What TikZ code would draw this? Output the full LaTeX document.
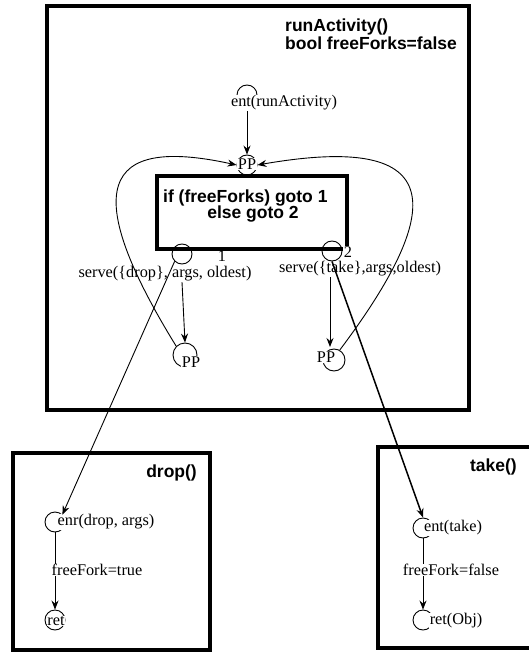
\documentclass[tikz,border=0pt]{standalone}
\usepackage{fontspec}
\setmainfont{Liberation Serif}
\newfontfamily\hv{Liberation Sans}
\usetikzlibrary{arrows.meta}
\begin{document}
\begin{tikzpicture}[x=1pt,y=-1pt,
  frame/.style={draw,line width=3.6pt},
  ttl/.style={font=\hv\bfseries\fontsize{17.5}{16}\selectfont,inner sep=0pt},
  lbl/.style={font=\fontsize{16.3}{18}\selectfont,inner sep=0.5pt},
  wlbl/.style={lbl,fill=white},
  st/.style={draw,circle,line width=0.9pt,inner sep=0pt},
  tip/.style={-{Stealth[length=9pt,width=7pt,inset=3pt]}},
  arr/.style={line width=0.9pt,tip},
  ln/.style={line width=0.9pt}]
\useasboundingbox (0,0) rectangle (528,652);
% frames
\draw[frame] (47,6) rectangle (469,410);
\draw[frame] (13,453) rectangle (210,650);
\draw[frame] (378,447) rectangle (540,648);
\node[ttl,anchor=west] (t1) at (285,27) {runActivity()};
\node[ttl,anchor=west] (t2) at (285,43) {bool freeForks=false};
\node[ttl,anchor=east] (td) at (197,473) {drop()};
\node[ttl,anchor=east] (tt) at (517,467) {take()};
% if box
\draw[frame,fill=white] (157,176) rectangle (347,249);
\node[ttl,anchor=west] (if1) at (163,198) {if (freeForks) goto 1};
\node[ttl] (if2) at (253,214) {else goto 2};
% states (circles)
\node[st,minimum size=20pt] (s0) at (247,95) {};
\node[st,minimum size=20pt] (s1) at (247,165) {};
\node[st,minimum size=20pt] (c1) at (182,254) {};
\node[st,minimum size=20pt] (c2) at (332,251) {};
\node[st,minimum size=24pt] (p1) at (185,355) {};
\node[st,minimum size=22pt] (p2) at (334,360) {};
\node[st,minimum size=20pt] (d1) at (55,522) {};
\node[st,minimum size=20pt] (d2) at (55,620) {};
\node[st,minimum size=20pt] (k1) at (423,528) {};
\node[st,minimum size=20pt] (k2) at (423,620) {};
% labels
\node[wlbl] (l0) at (284,103) {ent(runActivity)};
\node[wlbl] (l1) at (247,164) {PP};
\node[lbl] (n1) at (222,256) {1};
\node[wlbl] (n2) at (348,252) {2};
\node[lbl] (sd) at (165,274) {serve(\{drop\}, args, oldest)};
\node[lbl] (sk) at (360,269) {serve(\{take\},args,oldest)};
\node[wlbl] (lp1) at (191,362) {PP};
\node[wlbl] (lp2) at (326,357) {PP};
\node[wlbl] (ld1) at (106,522) {enr(drop, args)};
\node[wlbl] (ld2) at (56,621) {ret};
\node[wlbl] (lk1) at (453,528) {ent(take)};
\node[wlbl] (lk2) at (456,621) {ret(Obj)};
% connectors
\draw[arr] (l0.south -| s0) -- (s1);
\draw[ln,tip] (p1.135) .. controls (80,190) and (100,135) .. (s1.west);
\draw[ln,tip] (p2.60) .. controls (460,190) and (430,135) .. (s1.east);
\draw[arr] (sd.south -| c1) -- (p1.north);
\draw[arr] (sk.south -| 330,0) -- (330,347) coordinate (p2in);
\draw[arr] (c1.south west) -- (d1.north east);
\draw[arr,line width=1.5pt] (c2.south) -- (k1.north);
\draw[arr] (d1) -- (d2);
\draw[arr] (k1) -- (k2);
\node[wlbl] (fd) at (97,570) {freeFork=true};
\node[wlbl] (fk) at (451,570) {freeFork=false};
\end{tikzpicture}
\end{document}
